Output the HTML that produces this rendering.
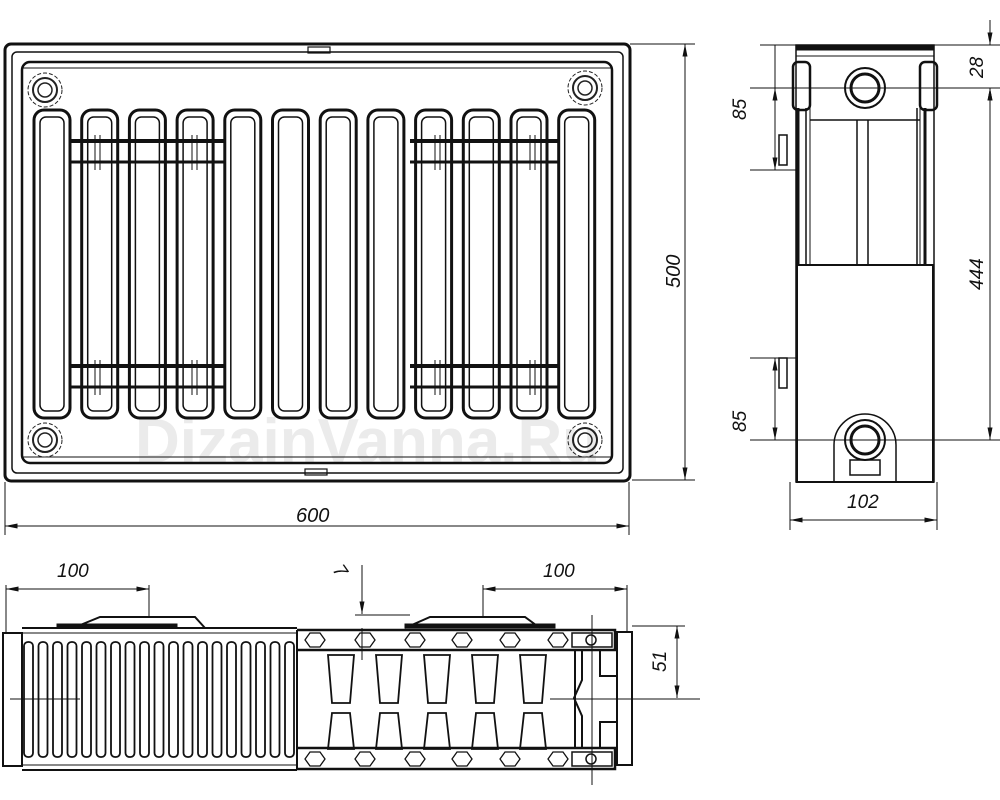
<!DOCTYPE html>
<html><head><meta charset="utf-8"><style>
html,body{margin:0;padding:0;background:#fff;}
svg{display:block}
text{font-family:"Liberation Sans",sans-serif;font-style:italic;fill:#111}
text.wm{font-style:normal;font-weight:bold;fill:#ebebeb}
</style></head><body>
<svg width="1000" height="800" viewBox="0 0 1000 800" xmlns="http://www.w3.org/2000/svg">
<defs>
<marker id="a" viewBox="0 0 10 4" refX="10" refY="2" markerWidth="14" markerHeight="5" orient="auto-start-reverse" markerUnits="userSpaceOnUse"><path d="M0,0 L10,2 L0,4z" fill="#111"/></marker>
<g id="tube" fill="none" stroke="#111">
<rect x="0" y="0" width="36" height="308" rx="10" stroke-width="3"/>
<rect x="6" y="7" width="24" height="294" rx="6" stroke-width="1.5"/>
</g>
<g id="boss" fill="none" stroke="#222">
<circle r="17" stroke-width="1" stroke-dasharray="4 2"/>
<circle r="12" stroke-width="2"/>
<circle r="7" stroke-width="1.5"/>
</g>
<g id="slot"><rect x="0" y="0" width="9" height="115" rx="4" fill="none" stroke="#111" stroke-width="1.8"/></g>
<g id="trap" fill="none" stroke="#111" stroke-width="1.8">
<path d="M0,0 L26,0 L22,48 L4,48 Z"/>
<path d="M4,58 L22,58 L26,94 L0,94 Z"/>
</g>
<g id="hex" fill="none" stroke="#111" stroke-width="1.3"><path d="M0,9 L5,2 L15,2 L20,9 L15,16 L5,16 Z"/></g>
</defs>

<!-- watermark -->
<text class="wm" x="135" y="462" font-size="62">DizainVanna.Ru</text>

<!-- FRONT VIEW -->
<g fill="none" stroke="#111">
<rect x="5" y="44" width="625" height="437" rx="6" stroke-width="3"/>
<rect x="12" y="52" width="611" height="421" rx="5" stroke-width="1.5"/>
<rect x="22" y="62" width="590" height="401" rx="8" stroke-width="2.5"/>
<line x1="22" y1="68" x2="612" y2="68" stroke-width="1"/>
<line x1="22" y1="457" x2="612" y2="457" stroke-width="1"/>
<rect x="308" y="47" width="22" height="6" stroke-width="1.2"/>
<rect x="305" y="469" width="22" height="6" stroke-width="1.2"/>
</g>
<use href="#boss" x="45" y="90"/><use href="#boss" x="585" y="88"/>
<use href="#boss" x="45" y="440"/><use href="#boss" x="585" y="440"/>
<use href="#tube" x="34" y="110"/><use href="#tube" x="81.7" y="110"/><use href="#tube" x="129.4" y="110"/>
<use href="#tube" x="177.1" y="110"/><use href="#tube" x="224.8" y="110"/><use href="#tube" x="272.5" y="110"/>
<use href="#tube" x="320.2" y="110"/><use href="#tube" x="367.9" y="110"/><use href="#tube" x="415.6" y="110"/>
<use href="#tube" x="463.3" y="110"/><use href="#tube" x="511" y="110"/><use href="#tube" x="558.7" y="110"/>
<g stroke="#111" fill="none">
<line x1="70" y1="141" x2="225" y2="141" stroke-width="4"/><line x1="70" y1="162" x2="225" y2="162" stroke-width="3"/>
<line x1="410" y1="141" x2="560" y2="141" stroke-width="4"/><line x1="410" y1="162" x2="560" y2="162" stroke-width="3"/>
<line x1="70" y1="366" x2="225" y2="366" stroke-width="4"/><line x1="70" y1="387" x2="225" y2="387" stroke-width="3"/>
<line x1="410" y1="366" x2="560" y2="366" stroke-width="4"/><line x1="410" y1="387" x2="560" y2="387" stroke-width="3"/>
<line x1="95" y1="135" x2="95" y2="170"/><line x1="100" y1="135" x2="100" y2="170"/>
<line x1="192" y1="135" x2="192" y2="170"/><line x1="197" y1="135" x2="197" y2="170"/>
<line x1="435" y1="135" x2="435" y2="170"/><line x1="440" y1="135" x2="440" y2="170"/>
<line x1="530" y1="135" x2="530" y2="170"/><line x1="535" y1="135" x2="535" y2="170"/>
<line x1="95" y1="360" x2="95" y2="395"/><line x1="100" y1="360" x2="100" y2="395"/>
<line x1="192" y1="360" x2="192" y2="395"/><line x1="197" y1="360" x2="197" y2="395"/>
<line x1="435" y1="360" x2="435" y2="395"/><line x1="440" y1="360" x2="440" y2="395"/>
<line x1="530" y1="360" x2="530" y2="395"/><line x1="535" y1="360" x2="535" y2="395"/>
</g>
<!-- dims front -->
<g stroke="#111" stroke-width="1" fill="none">
<line x1="5" y1="482" x2="5" y2="535"/><line x1="629" y1="482" x2="629" y2="535"/>
<line x1="5" y1="526" x2="629" y2="526" marker-start="url(#a)" marker-end="url(#a)"/>
<line x1="630" y1="44" x2="695" y2="44"/><line x1="632" y1="480" x2="695" y2="480"/>
<line x1="685" y1="44" x2="685" y2="480" marker-start="url(#a)" marker-end="url(#a)"/>
</g>
<text x="296" y="522" font-size="20">600</text>
<text x="0" y="0" font-size="20" transform="translate(680,288) rotate(-90)">500</text>

<!-- SIDE VIEW -->
<g fill="none" stroke="#111">
<rect x="796" y="45" width="138" height="437" stroke-width="1.5"/>
<rect x="796" y="45" width="138" height="5" fill="#111"/>
<line x1="796" y1="56" x2="934" y2="56" stroke-width="1"/>
<rect x="793" y="62" width="17" height="48" rx="5" stroke-width="2.5"/>
<rect x="920" y="62" width="17" height="48" rx="5" stroke-width="2.5"/>
<line x1="798" y1="108" x2="798" y2="265" stroke-width="3"/><line x1="806" y1="108" x2="806" y2="265" stroke-width="1.5"/>
<line x1="810" y1="108" x2="810" y2="265" stroke-width="1"/>
<line x1="925" y1="108" x2="925" y2="265" stroke-width="3"/><line x1="917" y1="108" x2="917" y2="265" stroke-width="1.5"/>
<line x1="920" y1="108" x2="920" y2="265" stroke-width="1"/>
<line x1="810" y1="120" x2="920" y2="120" stroke-width="1.5"/>
<line x1="857" y1="120" x2="857" y2="265" stroke-width="1.5"/><line x1="868" y1="120" x2="868" y2="265" stroke-width="1.5"/>
<rect x="797" y="265" width="136" height="217" stroke-width="2"/>
<circle cx="865" cy="88" r="20" stroke-width="2"/><circle cx="865" cy="88" r="14" stroke-width="3"/>
<path d="M834,482 L834,445 A31,31 0 0 1 896,445 L896,482" stroke-width="1.5"/>
<circle cx="865" cy="440" r="20" stroke-width="2"/><circle cx="865" cy="440" r="14" stroke-width="3"/>
<rect x="850" y="460" width="30" height="15" stroke-width="1.5"/>
<rect x="779" y="135" width="8" height="30" stroke-width="1.5"/>
<rect x="779" y="358" width="8" height="30" stroke-width="1.5"/>
</g>
<g stroke="#111" stroke-width="1" fill="none">
<line x1="760" y1="45" x2="1000" y2="45"/>
<line x1="750" y1="88" x2="1000" y2="88"/>
<line x1="750" y1="170" x2="796" y2="170"/>
<line x1="750" y1="358" x2="796" y2="358"/>
<line x1="750" y1="440" x2="1000" y2="440"/>
<line x1="775" y1="45" x2="775" y2="88"/>
<line x1="775" y1="88" x2="775" y2="170" marker-start="url(#a)" marker-end="url(#a)"/>
<line x1="775" y1="358" x2="775" y2="440" marker-start="url(#a)" marker-end="url(#a)"/>
<line x1="990" y1="20" x2="990" y2="45" marker-end="url(#a)"/>
<line x1="990" y1="88" x2="990" y2="105" marker-start="url(#a)"/>
<line x1="990" y1="88" x2="990" y2="440" marker-start="url(#a)" marker-end="url(#a)"/>
<line x1="790" y1="482" x2="790" y2="530"/><line x1="937" y1="482" x2="937" y2="530"/>
<line x1="790" y1="520" x2="937" y2="520" marker-start="url(#a)" marker-end="url(#a)"/>
</g>
<text x="0" y="0" font-size="19" transform="translate(746,120) rotate(-90)">85</text>
<text x="0" y="0" font-size="19" transform="translate(746,432) rotate(-90)">85</text>
<text x="0" y="0" font-size="19" transform="translate(983,78) rotate(-90)">28</text>
<text x="0" y="0" font-size="19" transform="translate(983,290) rotate(-90)">444</text>
<text x="847" y="508" font-size="19">102</text>

<!-- BOTTOM VIEW -->
<g fill="none" stroke="#111">
<rect x="3" y="633" width="19" height="133" stroke-width="2"/>
<path d="M22,628 L297,628 M22,770 L297,770" stroke-width="2"/>
<path d="M22,633 L297,633 M22,765 L297,765" stroke-width="1"/>
<path d="M73,628 L100,617 L195,617 L205,628" stroke-width="2"/>
<rect x="57" y="624" width="120" height="4" fill="#111"/>
<path d="M297,630 L615,630 L615,650 L297,650 M297,748 L615,748 L615,769 L297,769" stroke-width="2.5"/>
<path d="M405,628 L430,617 L525,617 L540,628" stroke-width="2"/>
<rect x="405" y="624" width="150" height="4" fill="#111"/>
<line x1="297" y1="630" x2="297" y2="769" stroke-width="2"/>
<rect x="617" y="632" width="15" height="133" stroke-width="2"/>
<path d="M575,650 L575,748 M582,650 L582,680 L574,698 L582,716 L582,748" stroke-width="2"/>
<path d="M600,650 L600,676 L617,676 M600,748 L600,722 L617,722" stroke-width="2"/>
</g>
<use href="#slot" x="24" y="642"/><use href="#slot" x="38.5" y="642"/><use href="#slot" x="53" y="642"/>
<use href="#slot" x="67.5" y="642"/><use href="#slot" x="82" y="642"/><use href="#slot" x="96.5" y="642"/>
<use href="#slot" x="111" y="642"/><use href="#slot" x="125.5" y="642"/><use href="#slot" x="140" y="642"/>
<use href="#slot" x="154.5" y="642"/><use href="#slot" x="169" y="642"/><use href="#slot" x="183.5" y="642"/>
<use href="#slot" x="198" y="642"/><use href="#slot" x="212.5" y="642"/><use href="#slot" x="227" y="642"/>
<use href="#slot" x="241.5" y="642"/><use href="#slot" x="256" y="642"/><use href="#slot" x="270.5" y="642"/>
<use href="#slot" x="285" y="642"/>
<use href="#trap" x="328" y="655"/><use href="#trap" x="376" y="655"/><use href="#trap" x="424" y="655"/>
<use href="#trap" x="472" y="655"/><use href="#trap" x="520" y="655"/>
<use href="#hex" x="305" y="631"/><use href="#hex" x="355" y="631"/><use href="#hex" x="405" y="631"/><use href="#hex" x="452" y="631"/><use href="#hex" x="500" y="631"/><use href="#hex" x="548" y="631"/>
<use href="#hex" x="305" y="750"/><use href="#hex" x="355" y="750"/><use href="#hex" x="405" y="750"/><use href="#hex" x="452" y="750"/><use href="#hex" x="500" y="750"/><use href="#hex" x="548" y="750"/>
<g fill="none" stroke="#111" stroke-width="1.5">
<rect x="572" y="633" width="40" height="14"/><circle cx="591" cy="640" r="5"/>
<rect x="572" y="752" width="40" height="14"/><circle cx="591" cy="759" r="5"/>
</g>
<g stroke="#111" stroke-width="1" fill="none">
<line x1="10" y1="699" x2="80" y2="699"/>
<line x1="550" y1="699" x2="700" y2="699"/>
<line x1="592" y1="615" x2="592" y2="785"/>
<line x1="6" y1="585" x2="6" y2="633"/><line x1="149" y1="585" x2="149" y2="617"/>
<line x1="6" y1="589" x2="149" y2="589" marker-start="url(#a)" marker-end="url(#a)"/>
<line x1="483" y1="585" x2="483" y2="617"/><line x1="627" y1="585" x2="627" y2="632"/>
<line x1="483" y1="589" x2="627" y2="589" marker-start="url(#a)" marker-end="url(#a)"/>
<line x1="362" y1="565" x2="362" y2="614" marker-end="url(#a)"/>
<line x1="362" y1="628" x2="362" y2="660"/>
<line x1="355" y1="615" x2="410" y2="615"/>
<line x1="632" y1="626" x2="685" y2="626"/>
<line x1="677" y1="626" x2="677" y2="698" marker-start="url(#a)" marker-end="url(#a)"/>
</g>
<text x="57" y="577" font-size="19">100</text>
<text x="543" y="577" font-size="19">100</text>
<text x="0" y="0" font-size="19" transform="translate(332,570) rotate(55)">7</text>
<text x="0" y="0" font-size="19" transform="translate(666,672) rotate(-90)">51</text>
</svg>
</body></html>
